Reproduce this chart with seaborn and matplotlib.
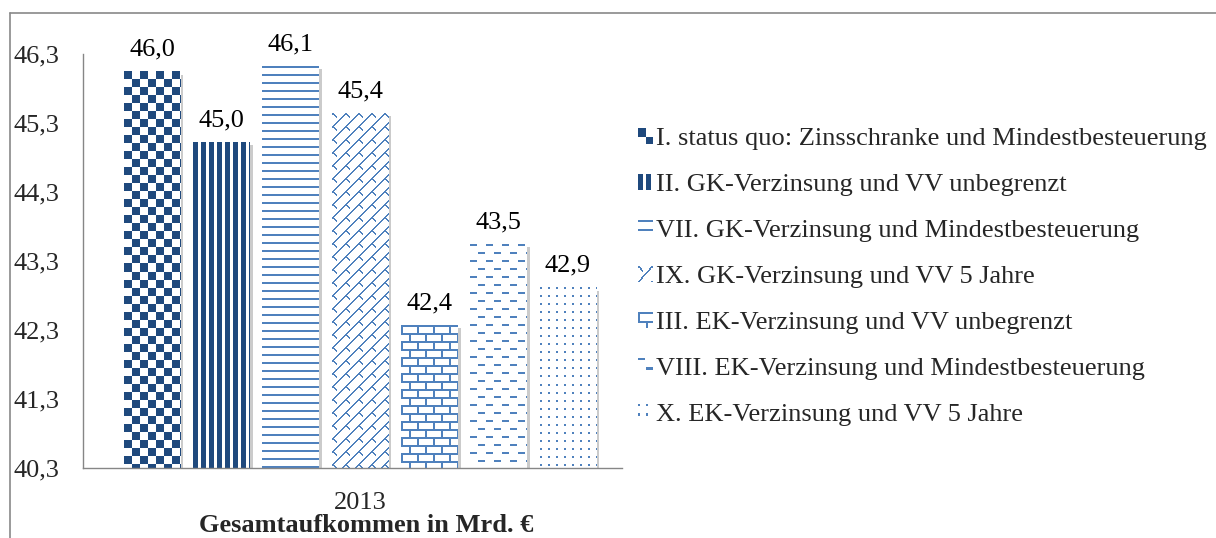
import numpy as np
import pandas as pd
import seaborn as sns
import matplotlib.pyplot as plt
from matplotlib.patches import Patch, Rectangle
from matplotlib.legend_handler import HandlerBase
from matplotlib.lines import Line2D
from matplotlib.patheffects import SimplePatchShadow, Normal

# Data
year = '2013'
scenarios = ['I. status quo: Zinsschranke und Mindestbesteuerung',
             'II. GK-Verzinsung und VV unbegrenzt',
             'VII. GK-Verzinsung und Mindestbesteuerung',
             'IX. GK-Verzinsung und VV 5 Jahre',
             'III. EK-Verzinsung und VV unbegrenzt',
             'VIII. EK-Verzinsung und Mindestbesteuerung',
             'X. EK-Verzinsung und VV 5 Jahre']
values = [46.04, 45.02, 46.12, 45.44, 42.37, 43.54, 42.91]
yticks = [40.3, 41.3, 42.3, 43.3, 44.3, 45.3, 46.3]

dark = '#1F497D'
light = '#4F81BD'
colors = [dark, dark, light, light, light, light, light]
kinds = ['checker', 'vstripes', 'hlines', 'diagbrick', 'brick', 'dashes', 'dots']


def de(v):
    return f'{v:.1f}'.replace('.', ',')


def make_pattern(kind, h, w):
    yy, xx = np.mgrid[0:h, 0:w]
    if kind == 'checker':
        return (xx // 8 + yy // 8) % 2 == 0
    if kind == 'vstripes':
        return (xx % 8) < 5
    if kind == 'hlines':
        return (yy % 8) < 2
    if kind == 'diagbrick':
        u = (xx + yy)
        v = (xx - yy)
        band = (u // 13) % 2
        lines = (u % 13) < 2
        conn = (((v + band * 13) % 26) < 2) & ((u % 13) < 9)
        return lines | conn
    if kind == 'brick':
        ty, tx = yy % 16, xx % 16
        return (ty % 8 < 2) | ((tx < 2) & (ty < 8)) | ((tx >= 8) & (tx < 10) & (ty >= 8))
    if kind == 'dashes':
        ty, tx = yy % 16, xx % 16
        return ((ty < 2) & (tx < 7)) | ((ty >= 8) & (ty < 10) & (tx >= 8) & (tx < 15))
    if kind == 'dots':
        return ((xx % 8) < 2) & ((yy % 8) < 2)
    return np.zeros((h, w), bool)


def to_rgb_img(mask, color):
    rgb = np.array(plt.matplotlib.colors.to_rgb(color))
    img = np.ones(mask.shape + (3,))
    img[mask] = rgb
    return img


class PatternHandler(HandlerBase):
    def __init__(self, kind, color):
        super().__init__()
        self.kind = kind
        self.color = color

    def create_artists(self, legend, orig_handle, xdescent, ydescent,
                       width, height, fontsize, trans):
        n = 14
        mask = make_pattern(self.kind, n, n)
        cw, ch = width / n, height / n
        arts = []
        for r, c in zip(*np.nonzero(mask)):
            arts.append(Rectangle((-xdescent + c * cw, -ydescent + (n - 1 - r) * ch),
                                  cw, ch, facecolor=self.color, edgecolor='none',
                                  linewidth=0, transform=trans))
        return arts


df = pd.DataFrame({'year': [year] * len(values), 'scenario': scenarios, 'value': values})

sns.set_style('white')
plt.rcParams['font.family'] = ['Liberation Serif', 'DejaVu Serif']
fs = 19

W, H = 1216, 538
fig, ax = plt.subplots(figsize=(W / 100, H / 100), dpi=100)
fig.subplots_adjust(left=83 / W, right=622 / W, bottom=(H - 468) / H, top=(H - 54) / H)

sns.barplot(data=df, x='year', y='value', hue='scenario', hue_order=scenarios,
            palette=colors, width=0.9, gap=0.18, ax=ax, legend=False)

ax.set_ylim(40.3, 46.3)
ax.set_xlim(-0.514, 0.486)

# fill every bar with its pattern
ax_w_px = 622 - 83
ax_h_px = 468 - 54
for cont, kind, col, v in zip(ax.containers, kinds, colors, values):
    bar = cont.patches[0]
    bar.set_facecolor('white')
    bar.set_edgecolor('none')
    bar.set_path_effects([SimplePatchShadow(offset=(2, -2), shadow_rgbFace='#8c8c8c', alpha=0.45),
                          Normal()])
    x0, bw = bar.get_x(), bar.get_width()
    pw = int(round(bw * ax_w_px))
    ph = int(round((v - 40.3) * ax_h_px / 6.0))
    img = to_rgb_img(make_pattern(kind, ph, pw), col)
    ax.imshow(img, extent=[x0, x0 + bw, 40.3, v], origin='upper',
              interpolation='nearest', aspect='auto', zorder=bar.get_zorder() + 0.1)
    ax.bar_label(cont, labels=[de(v)], padding=8, fontsize=fs, color='black')

ax.set_ylim(40.3, 46.3)
ax.set_xlim(-0.514, 0.486)

# axes styling
for s in ['top', 'right']:
    ax.spines[s].set_visible(False)
for s in ['left', 'bottom']:
    ax.spines[s].set_color('#868686')
    ax.spines[s].set_linewidth(1.0)

ax.set_yticks(yticks)
ax.set_yticklabels([de(t) for t in yticks], fontsize=fs)
ax.tick_params(axis='y', length=0, pad=50)
for lab in ax.get_yticklabels():
    lab.set_horizontalalignment('left')

ax.set_xticks([0])
ax.set_xticklabels([year], fontsize=fs)
ax.tick_params(axis='x', which='major', length=0, pad=17)
ax.set_xticks([-0.514, 0.486], minor=True)
ax.tick_params(axis='x', which='minor', length=6, width=1.0, color='#868686', direction='out')

ax.set_xlabel('Gesamtaufkommen in Mrd. €', fontsize=fs, fontweight='bold')
ax.xaxis.label.set_verticalalignment('center')
ax.xaxis.set_label_coords((366 - 83) / 539, (468 - 526) / 414)
ax.set_ylabel('')

# legend with pattern swatches
handles = [Patch(label=s) for s in scenarios]
hmap = {h: PatternHandler(k, c) for h, k, c in zip(handles, kinds, colors)}
fig.legend(handles=handles, handler_map=hmap, loc='upper left',
           bbox_to_anchor=(638 / W, 1 - 128 / H), frameon=False, fontsize=fs,
           handlelength=0.55, handleheight=0.55, handletextpad=0.15,
           labelspacing=0.9, borderpad=0, borderaxespad=0)

# chart border (partially visible)
fig.add_artist(Line2D([10 / W, 10 / W], [0, 1 - 13 / H], color='#898989', lw=1.2,
                      transform=fig.transFigure))
fig.add_artist(Line2D([10 / W, 1], [1 - 13 / H, 1 - 13 / H], color='#898989', lw=1.2,
                      transform=fig.transFigure))

fig.savefig('out.png', dpi=100)
